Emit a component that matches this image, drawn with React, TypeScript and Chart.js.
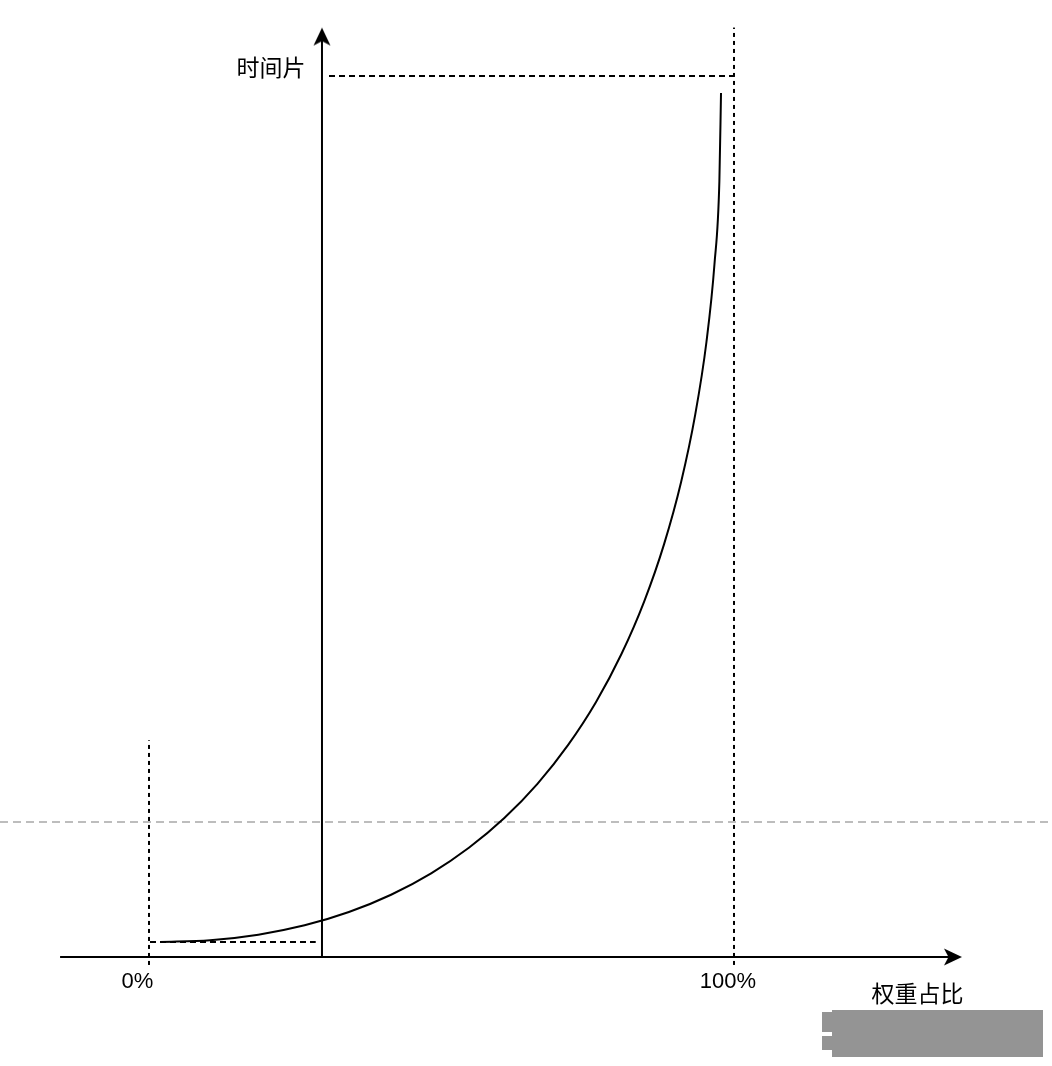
import React, { useEffect, useRef } from "react";
import { Chart, registerables } from "chart.js";

Chart.register(...registerables);

// Curve: weight share (%) -> time slice (relative units, 100 = max slice)
const weightShare = [1.88, 10.44, 18.69, 26.6, 34.17, 41.38, 48.23, 54.68, 60.74, 66.4, 71.62, 76.42, 80.76, 84.64, 88.05, 90.97, 93.38, 95.29, 96.66, 97.5, 97.78];
const timeSlice = [1.7, 1.91, 2.54, 3.6, 5.11, 7.07, 9.5, 12.4, 15.78, 19.66, 24.05, 28.95, 34.39, 40.35, 46.87, 53.95, 61.59, 69.81, 78.63, 88.05, 98.07];

// Axes (in data units)
const xAxisFrom = -15.2;
const xAxisTip = 138.97;
const yAxisAt = 29.57;
const yAxisTip = 105.5;

// Reference lines
const maxSlice = 100;
const minSlice = 1.7;
const zeroGuideTop = 24.6;
const guideBottom = -0.9;
const topGuideStart = 30.77;
const bottomGuideStart = 0.17;
const bottomGuideEnd = 28.5;
const grayGuide = 15.32;

// Tick labels and titles
const tickLabels = ["0%", "100%"];
const tickLabelX = [-1.97, 98.97];
const tickLabelY = -2.84;
const yTitle = "时间片";
const yTitlePos = [20.85, 100.97];
const xTitle = "权重占比";
const xTitlePos = [131.37, -4.14];

const X_MIN = -25.47;
const X_MAX = 154.36;
const Y_MIN = -12.37;
const Y_MAX = 108.63;

function makeArrow(): HTMLCanvasElement {
  const c = document.createElement("canvas");
  c.width = 40;
  c.height = 40;
  const ctx = c.getContext("2d")!;
  ctx.fillStyle = "#000";
  ctx.beginPath();
  ctx.moveTo(20, 20);
  ctx.lineTo(28.5, 38);
  ctx.lineTo(20, 33.5);
  ctx.lineTo(11.5, 38);
  ctx.closePath();
  ctx.fill();
  return c;
}

export default function App() {
  const ref = useRef<HTMLCanvasElement>(null);

  useEffect(() => {
    if (!ref.current) return;
    const arrow = makeArrow();
    const line = (data: { x: number; y: number }[], extra: any = {}) => ({
      type: "line",
      data,
      borderColor: "#000",
      borderWidth: 2,
      pointRadius: 0,
      showLine: true,
      fill: false,
      clip: false,
      ...extra,
    });

    const labelPlugin = {
      id: "labels",
      afterDraw(chart: any) {
        const { ctx } = chart;
        const xs = chart.scales.x;
        const ys = chart.scales.y;
        ctx.save();
        ctx.fillStyle = "#000";
        ctx.textAlign = "center";
        ctx.textBaseline = "middle";
        ctx.font = "22px 'Liberation Sans', Arial, sans-serif";
        tickLabels.forEach((t, i) => {
          ctx.fillText(t, xs.getPixelForValue(tickLabelX[i]), ys.getPixelForValue(tickLabelY));
        });
        ctx.font = "23px 'Noto Sans CJK SC', sans-serif";
        ctx.fillText(yTitle, xs.getPixelForValue(yTitlePos[0]), ys.getPixelForValue(yTitlePos[1]));
        ctx.fillText(xTitle, xs.getPixelForValue(xTitlePos[0]), ys.getPixelForValue(xTitlePos[1]));
        ctx.restore();
      },
    };

    const chart = new Chart(ref.current, {
      type: "scatter",
      data: {
        datasets: [
          // arrow heads
          {
            type: "scatter",
            data: [
              { x: yAxisAt, y: yAxisTip },
              { x: xAxisTip, y: 0 },
            ],
            pointStyle: arrow,
            rotation: [0, 90],
            pointRadius: 10,
            clip: false,
          } as any,
          line(weightShare.map((x, i) => ({ x, y: timeSlice[i] })), { cubicInterpolationMode: "monotone" }),
          line([{ x: xAxisFrom, y: 0 }, { x: xAxisTip - 1.5, y: 0 }]),
          line([{ x: yAxisAt, y: 0 }, { x: yAxisAt, y: yAxisTip - 1.2 }]),
          line([{ x: 0, y: guideBottom }, { x: 0, y: zeroGuideTop }], { borderWidth: 2, borderDash: [4, 4] }),
          line([{ x: 100, y: guideBottom }, { x: 100, y: yAxisTip }], { borderWidth: 2, borderDash: [4, 4] }),
          line([{ x: topGuideStart, y: maxSlice }, { x: 100, y: maxSlice }], { borderWidth: 2, borderDash: [6, 4] }),
          line([{ x: bottomGuideStart, y: minSlice }, { x: bottomGuideEnd, y: minSlice }], { borderWidth: 2, borderDash: [6, 4] }),
          line([{ x: X_MIN, y: grayGuide }, { x: X_MAX, y: grayGuide }], { borderWidth: 2, borderDash: [8, 5], borderColor: "#bdbdbd" }),
        ] as any,
      },
      options: {
        animation: false,
        responsive: false,
        devicePixelRatio: 1,
        layout: { padding: 0, autoPadding: false },
        plugins: { legend: { display: false }, tooltip: { enabled: false } },
        scales: {
          x: { type: "linear", min: X_MIN, max: X_MAX, display: false },
          y: { type: "linear", min: Y_MIN, max: Y_MAX, display: false },
        },
      } as any,
      plugins: [labelPlugin],
    });
    return () => chart.destroy();
  }, []);

  return (
    <div style={{ position: "fixed", left: 0, top: 0, width: 1052, height: 1066, background: "#fff" }}>
      <canvas ref={ref} width={1052} height={1066} style={{ display: "block" }} />
      <div style={{ position: "absolute", left: 832, top: 1010, width: 211, height: 47, background: "#949494" }} />
      <div style={{ position: "absolute", left: 822, top: 1012, width: 14, height: 20, background: "#949494" }} />
      <div style={{ position: "absolute", left: 822, top: 1036, width: 14, height: 14, background: "#949494" }} />
    </div>
  );
}
